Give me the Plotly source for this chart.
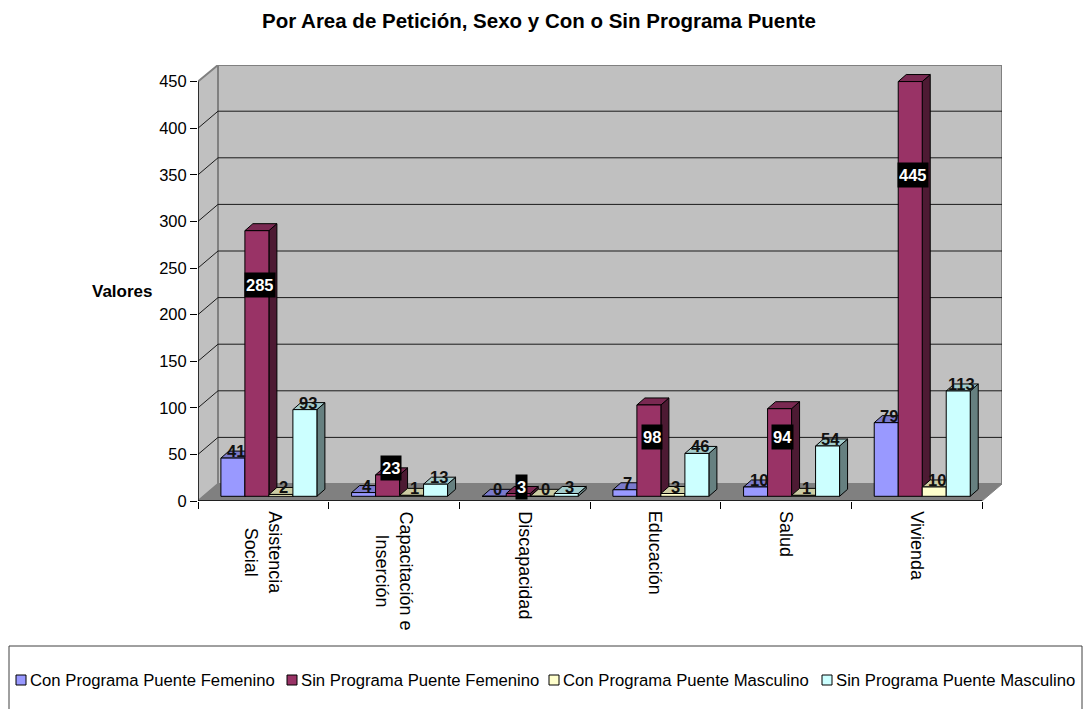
import plotly.graph_objects as go

categories = ["Asistencia<br>Social", "Capacitación e<br>Inserción", "Discapacidad", "Educación", "Salud", "Vivienda"]
series_names = ["Con Programa Puente Femenino", "Sin Programa Puente Femenino",
                "Con Programa Puente Masculino", "Sin Programa Puente Masculino"]
con_femenino = [41, 4, 0, 7, 10, 79]
sin_femenino = [285, 23, 3, 98, 94, 445]
con_masculino = [2, 1, 0, 3, 1, 10]
sin_masculino = [93, 13, 3, 46, 54, 113]
series_values = [con_femenino, sin_femenino, con_masculino, sin_masculino]
y_ticks = [0, 50, 100, 150, 200, 250, 300, 350, 400, 450]

front_colors = ["#9999FF", "#993366", "#FFFFCC", "#CCFFFF"]
side_colors = ["#4D4D80", "#4D1A33", "#808066", "#668080"]
top_colors = ["#7A7ACC", "#7A2952", "#CCCCA3", "#A3CCCC"]
FONT = "Liberation Sans, Arial, sans-serif"

# plot frame in screenshot pixels
L, R, T, B = 198, 1002, 65, 501
CAT_W = (982 - 198) / 6
PX_PER_UNIT = 46.6 / 50
def ux(px): return px / CAT_W
def uy(px): return px / PX_PER_UNIT
def pgx(p): return (p - L) / (R - L)
def pgy(p): return (B - p) / (B - T)

X_MAX = (R - L) / CAT_W
Y_MAX = (B - T) / PX_PER_UNIT
WALL_X, WALL_Y = ux(20), uy(17)
BAR_W = ux(24)
GROUP_PAD = ux(17.3)
FRONT_X, FRONT_Y = ux(5.6), uy(4.7)
DEPTH_X, DEPTH_Y = ux(8), uy(7)

fig = go.Figure()

def poly(xs, ys, fill, line="black", width=1):
    fig.add_trace(go.Scatter(x=xs, y=ys, mode="lines", fill="toself", fillcolor=fill,
                             line=dict(color=line, width=width), hoverinfo="skip",
                             showlegend=False, cliponaxis=False))

# walls and floor
poly([0, WALL_X, WALL_X, 0, 0], [0, WALL_Y, Y_MAX, 450, 0], "#C0C0C0", "#808080", 2)
poly([WALL_X, X_MAX, X_MAX, WALL_X, WALL_X], [WALL_Y, WALL_Y, Y_MAX, Y_MAX, WALL_Y], "#C0C0C0", "#808080", 2)
poly([0, 6, X_MAX, WALL_X, 0], [0, 0, WALL_Y, WALL_Y, 0], "#808080", "#808080", 1)

# gridlines
gx, gy = [], []
for v in y_ticks[1:-1]:
    gx += [0, WALL_X, X_MAX, None]
    gy += [v, v + WALL_Y, v + WALL_Y, None]
fig.add_trace(go.Scatter(x=gx, y=gy, mode="lines", line=dict(color="#1a1a1a", width=1),
                         hoverinfo="skip", showlegend=False, cliponaxis=False))
# axis lines
fig.add_trace(go.Scatter(x=[0, 0, 6], y=[450, 0, 0], mode="lines", line=dict(color="black", width=1.3),
                         hoverinfo="skip", showlegend=False, cliponaxis=False))

def left_edge(i, j):
    return i + GROUP_PAD + FRONT_X + j * BAR_W

# depth faces, back to front
for j, vals in enumerate(series_values):
    sx, sy, tx, ty = [], [], [], []
    for i, v in enumerate(vals):
        x0 = left_edge(i, j)
        x1 = x0 + BAR_W
        top = FRONT_Y + v
        sx += [x1, x1 + DEPTH_X, x1 + DEPTH_X, x1, x1, None]
        sy += [FRONT_Y, FRONT_Y + DEPTH_Y, top + DEPTH_Y, top, FRONT_Y, None]
        tx += [x0, x1, x1 + DEPTH_X, x0 + DEPTH_X, x0, None]
        ty += [top, top, top + DEPTH_Y, top + DEPTH_Y, top, None]
    poly(sx, sy, side_colors[j])
    poly(tx, ty, top_colors[j])

# front faces on an overlaid axis so they paint above the depth faces
for j, vals in enumerate(series_values):
    fig.add_trace(go.Bar(x=[left_edge(i, j) + BAR_W / 2 for i in range(6)], y=vals,
                         base=FRONT_Y, width=BAR_W, name=series_names[j],
                         marker=dict(color=front_colors[j], line=dict(color="black", width=1)),
                         yaxis="y2", showlegend=False, cliponaxis=False))

annotations = []
# drop (+) or lift (-) of the dark labels on the tall series, per category
sin_fem_label_drop = [54, -7, -6.5, 32, 28, 93]
for j, vals in enumerate(series_values):
    for i, v in enumerate(vals):
        xc = left_edge(i, j) + BAR_W / 2
        dark = j == 1
        annotations.append(dict(
            x=xc, y=FRONT_Y + v, xref="x", yref="y", text=str(v), showarrow=False,
            xshift=3, yshift=-sin_fem_label_drop[i] if dark else 7,
            font=dict(family=FONT, size=16.5, color="white" if dark else "#111111", weight="bold"),
            bgcolor="black" if dark else None, borderpad=1 if dark else 0,
            height=22 if dark else None))

# category labels
for i, c in enumerate(categories):
    annotations.append(dict(x=i + 0.5, y=pgy(509), xref="x", yref="paper", text=c, showarrow=False,
                            textangle=90, yanchor="top", xanchor="center", align="center",
                            font=dict(family=FONT, size=18, color="black")))

annotations.append(dict(x=pgx(122), y=pgy(291), xref="paper", yref="paper", text="<b>Valores</b>",
                        xanchor="center", yanchor="middle",
                        showarrow=False, font=dict(family=FONT, size=17, color="black")))

# legend box
shapes = [dict(type="rect", xref="paper", yref="paper", x0=pgx(9), x1=pgx(1082), y0=pgy(646), y1=pgy(725),
               line=dict(color="#404040", width=1), fillcolor="white", layer="below")]
swatch_left = [16, 287, 549, 822]
for j, name in enumerate(series_names):
    s = swatch_left[j]
    shapes.append(dict(type="rect", xref="paper", yref="paper", x0=pgx(s), x1=pgx(s + 10),
                       y0=pgy(675), y1=pgy(685), fillcolor=front_colors[j],
                       line=dict(color="black", width=1)))
    annotations.append(dict(x=pgx(s + 13), y=pgy(680), xref="paper", yref="paper", text=name,
                            xanchor="left", yanchor="middle", showarrow=False, borderpad=0,
                            font=dict(family=FONT, size=16.7, color="black")))

fig.update_layout(
    width=1085, height=709, autosize=False, showlegend=False,
    margin=dict(l=L, r=1085 - R, t=T, b=709 - B, pad=0),
    paper_bgcolor="white", plot_bgcolor="white", barmode="overlay",
    title=dict(text="<b>Por Area de Petición, Sexo y Con o Sin Programa Puente</b>",
               x=539 / 1085, xanchor="center", y=1 - 21 / 709, yanchor="middle",
               font=dict(family=FONT, size=20.5, color="black")),
    xaxis=dict(range=[0, X_MAX], tickvals=[0, 1, 2, 3, 4, 5, 6], showticklabels=False,
               ticks="outside", ticklen=7, tickcolor="black", tickwidth=1, showgrid=False,
               zeroline=False, showline=False),
    yaxis=dict(range=[0, Y_MAX], tickvals=y_ticks, ticktext=[str(v) for v in y_ticks],
               ticks="outside", ticklen=7, tickcolor="black", tickwidth=1, showgrid=False,
               zeroline=False, showline=False, tickfont=dict(family=FONT, size=16.5, color="black")),
    yaxis2=dict(range=[0, Y_MAX], overlaying="y", visible=False),
    annotations=annotations, shapes=shapes,
)
fig.write_html("out.html", config=dict(displayModeBar=False),
               post_script="document.body.style.margin='0';document.documentElement.style.overflow='hidden';")
